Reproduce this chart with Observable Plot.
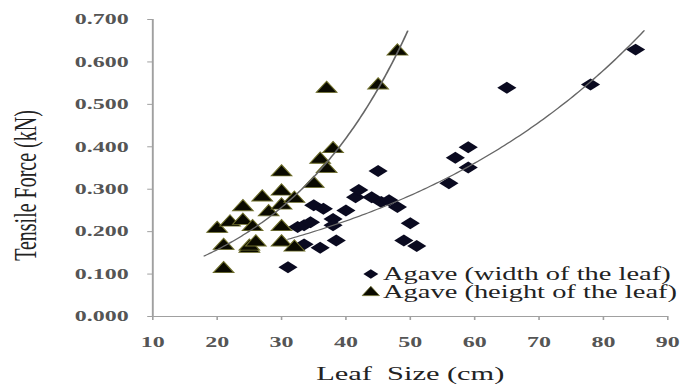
<!DOCTYPE html>
<html><head><meta charset="utf-8">
<script src="https://cdn.jsdelivr.net/npm/d3@7"></script>
<script src="https://cdn.jsdelivr.net/npm/@observablehq/plot@0.6"></script>
<style>body{margin:0;background:#fff}</style>
</head><body><div id="chart"></div>
<script>
// Agave (width of the leaf) — diamonds
const widthX = [31, 32.5, 33.5, 33.5, 34.5, 35, 36.5, 36, 38, 38, 38.5, 40, 41.5, 42, 44, 45, 45.5, 46.7, 48, 49, 50, 51, 56, 57, 59, 59, 65, 78, 85];
const widthY = [0.116, 0.211, 0.215, 0.170, 0.222, 0.262, 0.254, 0.162, 0.230, 0.215, 0.179, 0.250, 0.281, 0.298, 0.281, 0.343, 0.270, 0.274, 0.258, 0.179, 0.220, 0.166, 0.314, 0.374, 0.399, 0.351, 0.539, 0.547, 0.629];
// Agave (height of the leaf) — triangles
const heightX = [20, 21, 21, 22, 24, 24, 25, 25, 25.5, 26, 27, 28, 30, 30, 30, 30, 30, 32, 32, 35, 36, 37, 38, 37, 45, 48];
const heightY = [0.207, 0.112, 0.167, 0.222, 0.226, 0.258, 0.160, 0.165, 0.211, 0.175, 0.281, 0.246, 0.340, 0.295, 0.262, 0.211, 0.175, 0.278, 0.163, 0.313, 0.370, 0.348, 0.395, 0.537, 0.545, 0.625];
// trendline x extents
const widthTrendRange = [31, 86.3];
const heightTrendRange = [18, 49.6];
const xTicks = [10, 20, 30, 40, 50, 60, 70, 80, 90];
const yTicks = [0, 0.1, 0.2, 0.3, 0.4, 0.5, 0.6, 0.7];
const legendLabels = ["Agave (width of the leaf)", "Agave (height of the leaf)"];
const xTitle = "Leaf\u00a0 Size (cm)";
const yTitle = "Tensile Force (kN)";

const S = 1.6, W = 691, H = 387, W0 = W / S;
const serif = "'Liberation Serif', 'Times New Roman', 'DejaVu Serif', serif";

const widthPts = widthX.map((x, i) => ({x, y: widthY[i]}));
const heightPts = heightX.map((x, i) => ({x, y: heightY[i]}));

function expFit(xs, ys) {
  const ly = ys.map(Math.log);
  const mx = d3.mean(xs), my = d3.mean(ly);
  let sxy = 0, sxx = 0;
  xs.forEach((x, i) => { sxy += (x - mx) * (ly[i] - my); sxx += (x - mx) ** 2; });
  const b = sxy / sxx, a = Math.exp(my - b * mx);
  return x => a * Math.exp(b * x);
}
function trend(xs, ys, [x0, x1]) {
  const f = expFit(xs, ys);
  return d3.range(0, 121).map(i => { const x = x0 + (x1 - x0) * i / 120; return {x, y: f(x)}; });
}
const trendW = trend(widthX, widthY, widthTrendRange);
const trendH = trend(heightX, heightY, heightTrendRange);

const ML = 95, MR = 15, MT = 19, MB = 71;
const axisColor = "#a0a0a0";

const plot = Plot.plot({
  width: W0, height: H,
  marginLeft: ML, marginRight: MR, marginTop: MT, marginBottom: MB,
  x: {domain: [10, 90]},
  y: {domain: [0, 0.7]},
  style: {fontFamily: serif, background: "#fff"},
  marks: [
    Plot.axisX({ticks: xTicks, tickSize: 4, tickPadding: 16, fontSize: 15, fontWeight: "bold", fill: "#555", stroke: axisColor, label: null}),
    Plot.axisY({ticks: yTicks, tickFormat: d3.format(".3f"), tickSize: 3, tickPadding: 12, fontSize: 15, fontWeight: "bold", fill: "#555", stroke: axisColor, label: null}),
    Plot.ruleX([10], {stroke: axisColor, strokeWidth: 1.2}),
    Plot.ruleY([0], {stroke: axisColor, strokeWidth: 1.2}),
    Plot.dot(widthPts, {x: "x", y: "y", symbol: "diamond2", r: 5.4, fill: "#0a0a20", stroke: "none"}),
    Plot.dot(heightPts, {x: "x", y: "y", symbol: "triangle", r: 4.8, fill: "#0a0a00", stroke: "#6e6e2a", strokeWidth: 0.8}),
    Plot.line(trendW, {x: "x", y: "y", stroke: "#666", strokeWidth: 1.1}),
    Plot.line(trendH, {x: "x", y: "y", stroke: "#666", strokeWidth: 1.1}),
    // legend
    Plot.dot([legendLabels[0]], {frameAnchor: "bottom-right", dx: -185.6, dy: -42.5, symbol: "diamond2", r: 4.2, fill: "#0a0a20"}),
    Plot.dot([legendLabels[1]], {frameAnchor: "bottom-right", dx: -185.6, dy: -24, symbol: "triangle", r: 4, fill: "#0a0a00", stroke: "#6e6e2a", strokeWidth: 0.6}),
    Plot.text([legendLabels[0]], {text: d => d, frameAnchor: "bottom-right", textAnchor: "start", lineAnchor: "middle", dx: -178, dy: -42.5, fontSize: 17.8, fill: "#222"}),
    Plot.text([legendLabels[1]], {text: d => d, frameAnchor: "bottom-right", textAnchor: "start", lineAnchor: "middle", dx: -178, dy: -24, fontSize: 17.8, fill: "#222"}),
    // axis titles
    Plot.text([yTitle], {text: d => d, frameAnchor: "left", textAnchor: "middle", lineAnchor: "middle", rotate: -90, dx: -(ML - 25 / S), dy: 17.5, fontSize: 20, fill: "#222"}),
    Plot.text([xTitle], {text: d => d, frameAnchor: "bottom", textAnchor: "middle", lineAnchor: "middle", dy: 57, fontSize: 19, fill: "#222"})
  ]
});
plot.setAttribute("width", W);
plot.setAttribute("height", H);
plot.setAttribute("preserveAspectRatio", "none");
plot.style.width = W + "px";
plot.style.height = H + "px";
plot.style.maxWidth = "none";
document.getElementById("chart").appendChild(plot);
</script>
</body></html>
